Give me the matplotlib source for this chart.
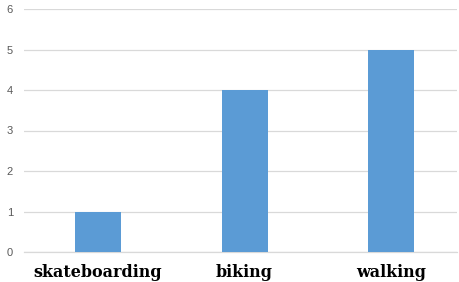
import matplotlib
matplotlib.use("Agg")
import matplotlib.pyplot as plt

categories = ["skateboarding", "biking", "walking"]
values = [1, 4, 5]
yticks = [0, 1, 2, 3, 4, 5, 6]

fig = plt.figure(figsize=(4.59, 2.82), dpi=100)
ax = fig.add_axes([24/459, 1 - 252/282, (457-24)/459, (252-9)/282])

x = range(len(categories))
ax.bar(x, values, width=0.314, color="#5B9BD5", zorder=3)
ax.set_xlim(-0.505, 2.45)
ax.set_ylim(0, 6)
ax.set_yticks(yticks)
ax.set_yticklabels([str(t) for t in yticks], color="#595959", fontsize=8, family="Liberation Sans")
ax.yaxis.grid(True, color="#D9D9D9", linewidth=0.9, zorder=0)
ax.tick_params(axis="y", length=0, pad=8)
ax.tick_params(axis="x", length=0, pad=8.5)
ax.set_xticks(list(x))
ax.set_xticklabels(categories, family="DejaVu Serif", fontweight="bold", fontsize=11.5, color="black")
for s in ["top", "right", "left"]:
    ax.spines[s].set_visible(False)
ax.spines["bottom"].set_color("#D9D9D9")
ax.spines["bottom"].set_linewidth(0.9)

fig.savefig("out.png", dpi=100)
